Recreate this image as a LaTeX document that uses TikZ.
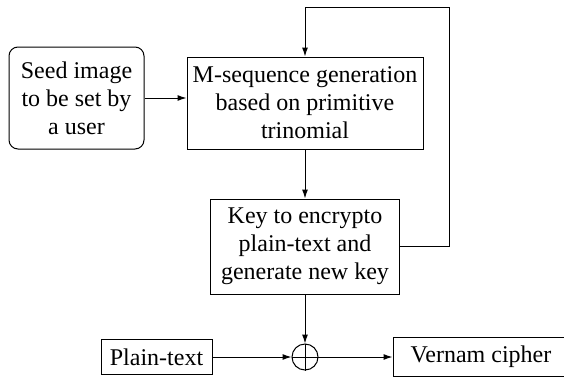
\documentclass[tikz,border=0pt]{standalone}
\usepackage{fontspec}
\setmainfont{Liberation Serif}
\newfontfamily\blkserif{Liberation Serif}
\usetikzlibrary{arrows.meta,calc,positioning}
\newcommand{\blkfont}{\blkserif\fontsize{24}{28}\selectfont}
\tikzset{
    blocksty/.style={draw,fill=white,rectangle,align=center,inner sep=0pt,font=\blkfont},
    seedsty/.style={blocksty,rounded corners=9pt},
    xorsty/.style={draw,circle,minimum size=26pt,inner sep=0pt},
    flowsty/.style={->,line width=1pt},
}

\begin{document}
\begin{tikzpicture}[x=1pt,y=-1pt,line width=1pt,>={Latex[length=9pt,width=6pt]}]
  \useasboundingbox (0,0) rectangle (564,378);

  \node[seedsty,minimum width=135pt,minimum height=102pt] (seed) at (76.5,98) {Seed image\\to be set by\\a user};
  \node[blocksty,minimum width=236pt,minimum height=92pt] (mseq) at (305,103) {M-sequence generation\\based on primitive\\trinomial};
  \node[blocksty,minimum width=189pt,minimum height=95pt] (key) at (305,246.5) {Key to encrypto\\plain-text and\\generate new key};
  \node[xorsty] (xor) at (305,357) {};
  \node[blocksty,minimum width=111pt,minimum height=35pt] (plain) at (156.5,357) {Plain-text};
  \node[blocksty,minimum width=176pt,minimum height=39pt] (vernam) at (481,357) {Vernam cipher};
  \coordinate (fbtop) at (449,7);

  \draw (xor.north) -- (xor.south);
  \draw (xor.west) -- (xor.east);

  \draw[flowsty] (seed.east) -- (seed.east -| mseq.west);
  \draw[flowsty] (mseq.south) -- (key.north);
  \draw[flowsty] (key.east) -| (fbtop) -| (mseq.north);
  \draw[flowsty] (key.south) -- (xor.north);
  \draw[flowsty] (plain.east) -- (xor.west);
  \draw[flowsty] (xor.east) -- (vernam.west);
\end{tikzpicture}
\end{document}
